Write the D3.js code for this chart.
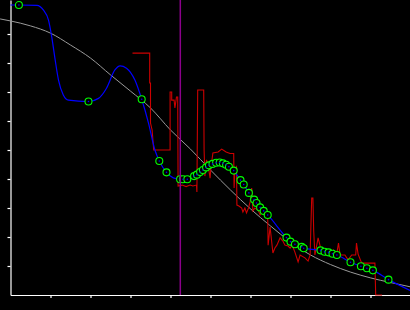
<!DOCTYPE html>
<html>
<head>
<meta charset="utf-8">
<script src="https://cdnjs.cloudflare.com/ajax/libs/d3/7.8.5/d3.min.js"></script>
<style>
  body { margin: 0; background: #000; }
  svg { display: block; background: #000; }
</style>
</head>
<body>
<script>
  // tick positions (no labels on this chart)
  var xTicks = [1, 2, 3, 4, 5, 6, 7, 8, 9];
  var yTicks = [1, 2, 3, 4, 5, 6, 7, 8, 9];

  // reference curve (gray)
  var refX = [-0.26, 0, 0.5, 1, 1.5, 2, 2.5, 3, 3.5, 4, 4.5, 5, 5.5, 6, 6.5, 7, 7.5, 8, 8.5, 9, 9.5, 10];
  var refY = [9.52, 9.45, 9.28, 9.03, 8.62, 8.17, 7.59, 7.03, 6.45, 5.69, 5.03, 4.31, 3.62, 2.97, 2.38, 1.83, 1.38, 1.05, 0.79, 0.59, 0.43, 0.28];

  // sample points (green circles)
  var ptX = [0.21, 1.95, 3.28, 3.72, 3.9, 4.24, 4.31, 4.42, 4.59, 4.66, 4.74, 4.81, 4.89, 4.96, 5.05, 5.14, 5.23, 5.31, 5.39, 5.46, 5.58,
             5.75, 5.83, 5.96, 6.09, 6.15, 6.24, 6.33, 6.43, 6.9, 7.0, 7.11, 7.28, 7.33, 7.75, 7.85, 7.95, 8.05, 8.16, 8.5, 8.76, 8.91, 9.06, 9.45];
  var ptY = [10.0, 6.67, 6.75, 4.62, 4.23, 3.99, 3.99, 3.99, 4.10, 4.15, 4.24, 4.31, 4.40, 4.47, 4.52, 4.56, 4.57, 4.54, 4.49, 4.42, 4.29,
             3.96, 3.81, 3.52, 3.29, 3.17, 3.02, 2.90, 2.76, 1.98, 1.84, 1.75, 1.66, 1.61, 1.54, 1.49, 1.47, 1.42, 1.38, 1.13, 0.99, 0.92, 0.85, 0.53];

  // extra knots of the fitted (blue) curve that carry no circle
  var fitExtraX = [0, 0.66, 0.82, 0.95, 1.03, 1.11, 1.2, 1.32, 1.45, 2.2, 2.4, 2.61, 2.74, 2.9, 3.11, 3.45, 3.61, 4.07, 9.99];
  var fitExtraY = [10.0, 9.99, 9.83, 9.48, 8.91, 8.17, 7.41, 6.90, 6.72, 6.78, 7.13, 7.76, 7.90, 7.82, 7.41, 5.93, 5.0, 4.04, 0.16];

  // measured signal (red)
  var sigX = [3.05, 3.48, 3.48, 3.5, 3.5, 3.54, 3.58, 3.99, 3.99, 4.03, 4.03, 4.09, 4.11, 4.15, 4.18, 4.19, 4.29, 4.39, 4.49, 4.56, 4.65, 4.66,
              4.68, 4.83, 4.84, 4.86, 4.9, 4.94, 4.99, 5.01, 5.06, 5.19, 5.28, 5.39, 5.49, 5.58, 5.59, 5.61, 5.65, 5.66, 5.71, 5.78, 5.81,
              5.86, 5.9, 5.95, 5.99, 6.03, 6.06, 6.11, 6.19, 6.24, 6.29, 6.36, 6.43, 6.44, 6.49, 6.56, 6.61, 6.66, 6.74, 6.81, 6.86, 6.94,
              6.99, 7.04, 7.11, 7.19, 7.24, 7.36, 7.44, 7.49, 7.53, 7.56, 7.58, 7.61, 7.69, 7.78, 7.86, 7.94, 8.03, 8.08, 8.15, 8.2, 8.24,
              8.36, 8.44, 8.53, 8.63, 8.65, 8.69, 8.78, 9.11, 9.13, 9.29];
  var sigY = [8.34, 8.34, 7.31, 7.31, 5.93, 5.69, 5.0, 5.0, 7.0, 7.0, 6.72, 6.72, 6.45, 6.83, 6.83, 3.76, 3.79, 3.74, 3.79, 3.76, 3.79, 3.55,
              7.07, 7.07, 5.0, 4.10, 4.66, 4.48, 4.03, 4.38, 4.90, 4.93, 5.03, 4.93, 4.88, 4.88, 3.69, 4.31, 4.41, 3.10, 3.07, 3.0, 2.86,
              3.0, 2.83, 3.0, 3.21, 3.69, 2.90, 3.0, 2.93, 2.76, 2.86, 2.72, 2.69, 1.72, 2.34, 1.45, 1.62, 1.72, 1.97, 1.86, 1.72, 1.69,
              1.62, 1.72, 1.48, 1.14, 1.38, 1.28, 1.17, 1.38, 3.34, 3.34, 2.21, 1.38, 1.97, 1.48, 1.38, 1.48, 1.38, 1.55, 1.38, 1.79, 1.38,
              1.38, 1.21, 1.38, 1.38, 1.79, 1.41, 1.10, 1.10, 0, 0];

  // vertical marker
  var markerX = 4.245;

  var width = 410, height = 310;
  var margin = { left: 10.5, bottom: 15 };

  var x = d3.scaleLinear()
    .domain([0, 10])
    .range([margin.left, margin.left + 400]);

  var y = d3.scaleLinear()
    .domain([0, 295 / 29])
    .range([height - margin.bottom, 0]);

  var svg = d3.select("body")
    .append("svg")
    .attr("width", width)
    .attr("height", height);

  // axes
  svg.append("g")
    .attr("transform", "translate(0," + y(0) + ")")
    .call(d3.axisBottom(x).tickValues(xTicks).tickSize(3).tickSizeOuter(0).tickFormat(""));

  svg.append("g")
    .attr("transform", "translate(" + x(0) + ",0)")
    .call(d3.axisLeft(y).tickValues(yTicks).tickSize(3).tickSizeOuter(0).tickFormat(""));

  svg.selectAll(".domain, .tick line")
    .attr("stroke", "#fff")
    .attr("stroke-width", 1.2);

  function pairs(xs, ys) {
    return xs.map(function(d, i) { return [d, ys[i]]; });
  }

  var line = d3.line()
    .x(function(d) { return x(d[0]); })
    .y(function(d) { return y(d[1]); });

  // gray reference curve
  svg.append("path")
    .datum(pairs(refX, refY))
    .attr("fill", "none")
    .attr("stroke", "#9a9a9a")
    .attr("stroke-width", 1)
    .attr("d", line.curve(d3.curveMonotoneX));

  // red signal
  svg.append("path")
    .datum(pairs(sigX, sigY))
    .attr("fill", "none")
    .attr("stroke", "#cc0000")
    .attr("stroke-width", 1.1)
    .attr("d", line.curve(d3.curveLinear));

  // blue fit through the points plus its extra knots
  var fitData = pairs(ptX, ptY).concat(pairs(fitExtraX, fitExtraY))
    .sort(function(a, b) { return a[0] - b[0]; });

  svg.append("path")
    .datum(fitData)
    .attr("fill", "none")
    .attr("stroke", "#0000ff")
    .attr("stroke-width", 1.2)
    .attr("d", line.curve(d3.curveMonotoneX));

  // green circles
  var pts = pairs(ptX, ptY);
  svg.selectAll(".pt")
    .data(pts)
    .enter().append("circle")
    .attr("class", "pt")
    .attr("cx", function(d) { return x(d[0]); })
    .attr("cy", function(d) { return y(d[1]); })
    .attr("r", 3.5)
    .attr("fill", "#000")
    .attr("stroke", "#00ff00")
    .attr("stroke-width", 1.1);

  svg.selectAll(".dot")
    .data(pts)
    .enter().append("circle")
    .attr("class", "dot")
    .attr("cx", function(d) { return x(d[0]); })
    .attr("cy", function(d) { return y(d[1]); })
    .attr("r", 0.8)
    .attr("fill", "#0000ff");

  // magenta marker
  svg.append("line")
    .attr("x1", x(markerX))
    .attr("x2", x(markerX))
    .attr("y1", 0)
    .attr("y2", y(0))
    .attr("stroke", "#8b008b")
    .attr("stroke-width", 1.5);
</script>
</body>
</html>
